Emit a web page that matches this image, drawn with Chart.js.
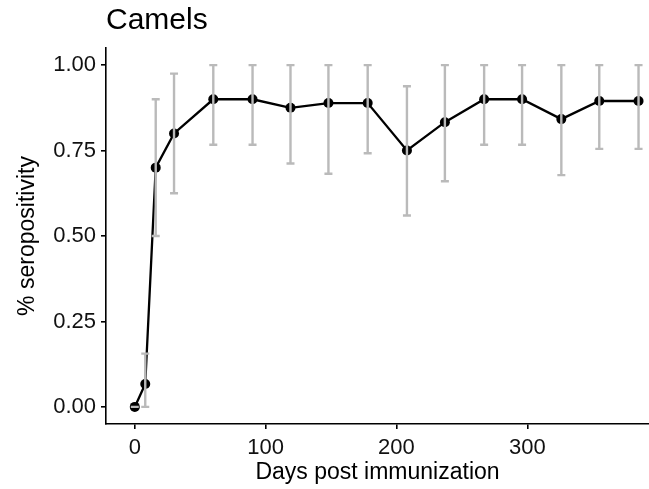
<!DOCTYPE html>
<html>
<head>
<meta charset="utf-8">
<script src="https://cdn.jsdelivr.net/npm/chart.js@4/dist/chart.umd.min.js"></script>
<style>
  html, body { margin: 0; padding: 0; background: #fff; }
  #wrap { width: 649px; height: 489px; }
</style>
</head>
<body>
<div id="wrap"><canvas id="seroChart" width="649" height="489"></canvas></div>
<script>
// days post immunization and seropositivity with 95% interval
const days = [0, 8, 16, 30, 60, 90, 119, 148, 178, 208, 237, 267, 296, 326, 355, 385];
const seropos = [0, 0.067, 0.70, 0.80, 0.90, 0.90, 0.875, 0.889, 0.889, 0.75, 0.833, 0.90, 0.90, 0.842, 0.895, 0.895];
const lower = [0, 0, 0.50, 0.625, 0.767, 0.767, 0.712, 0.682, 0.742, 0.56, 0.66, 0.767, 0.767, 0.678, 0.755, 0.755];
const upper = [0, 0.156, 0.90, 0.975, 1, 1, 1, 1, 1, 0.938, 1, 1, 1, 1, 1, 1];
const yTicks = [0, 0.25, 0.5, 0.75, 1];
const xTicks = [0, 100, 200, 300];

const FONT = "'Liberation Sans', Arial, Helvetica, sans-serif";

// grey error bars drawn over the points, through the scales
const errorBars = {
    id: 'errorBars',
    afterDatasetsDraw(chart) {
        const { ctx, scales: { x, y } } = chart;
        ctx.save();
        ctx.strokeStyle = '#bababa';
        ctx.lineWidth = 2.4;
        ctx.lineCap = 'butt';
        days.forEach((d, i) => {
            const px = x.getPixelForValue(d);
            const top = y.getPixelForValue(upper[i]);
            const bot = y.getPixelForValue(lower[i]);
            ctx.beginPath();
            ctx.moveTo(px, top);
            ctx.lineTo(px, bot);
            ctx.moveTo(px - 4, top);
            ctx.lineTo(px + 4, top);
            ctx.moveTo(px - 4, bot);
            ctx.lineTo(px + 4, bot);
            ctx.stroke();
        });
        ctx.restore();
    }
};

const ctx = document.getElementById('seroChart').getContext('2d');
new Chart(ctx, {
    type: 'line',
    data: {
        datasets: [{
            data: days.map((d, i) => ({ x: d, y: seropos[i] })),
            borderColor: '#000',
            borderWidth: 2.3,
            backgroundColor: '#000',
            pointRadius: 5,
            pointBorderWidth: 0,
            pointBackgroundColor: '#000',
            tension: 0
        }]
    },
    options: {
        responsive: false,
        animation: false,
        layout: { padding: 0, autoPadding: false },
        plugins: {
            legend: { display: false },
            tooltip: { enabled: false },
            title: {
                display: true,
                text: 'Camels',
                align: 'start',
                fullSize: false,
                color: '#000',
                font: { family: FONT, size: 30, weight: 'normal' },
                padding: { top: 3, bottom: 9 }
            }
        },
        scales: {
            x: {
                type: 'linear',
                min: -22,
                max: 393,
                afterFit: s => { s.height = 65; s.paddingLeft = 0; s.paddingRight = 0; },
                afterBuildTicks: s => { s.ticks = xTicks.map(v => ({ value: v })); },
                border: { display: true, color: '#000', width: 1.6 },
                grid: { drawOnChartArea: false, drawTicks: true, tickLength: 5, color: '#000', lineWidth: 1.6 },
                ticks: {
                    includeBounds: false,
                    color: '#111',
                    padding: 6,
                    maxRotation: 0,
                    font: { family: FONT, size: 22 }
                },
                title: {
                    display: true,
                    text: 'Days post immunization',
                    color: '#000',
                    font: { family: FONT, size: 23 },
                    padding: { top: 0, bottom: 3 }
                }
            },
            y: {
                type: 'linear',
                min: -0.05,
                max: 1.05,
                afterFit: s => { s.width = 106; },
                afterBuildTicks: s => { s.ticks = yTicks.map(v => ({ value: v })); },
                border: { display: true, color: '#000', width: 1.6 },
                grid: { drawOnChartArea: false, drawTicks: true, tickLength: 5, color: '#000', lineWidth: 1.6 },
                ticks: {
                    includeBounds: false,
                    color: '#111',
                    padding: 5,
                    font: { family: FONT, size: 22 },
                    callback: v => Number(v).toFixed(2)
                },
                title: {
                    display: true,
                    text: '% seropositivity',
                    color: '#000',
                    font: { family: FONT, size: 23 },
                    padding: { top: 14, bottom: 0 }
                }
            }
        }
    },
    plugins: [errorBars]
});
</script>
</body>
</html>
